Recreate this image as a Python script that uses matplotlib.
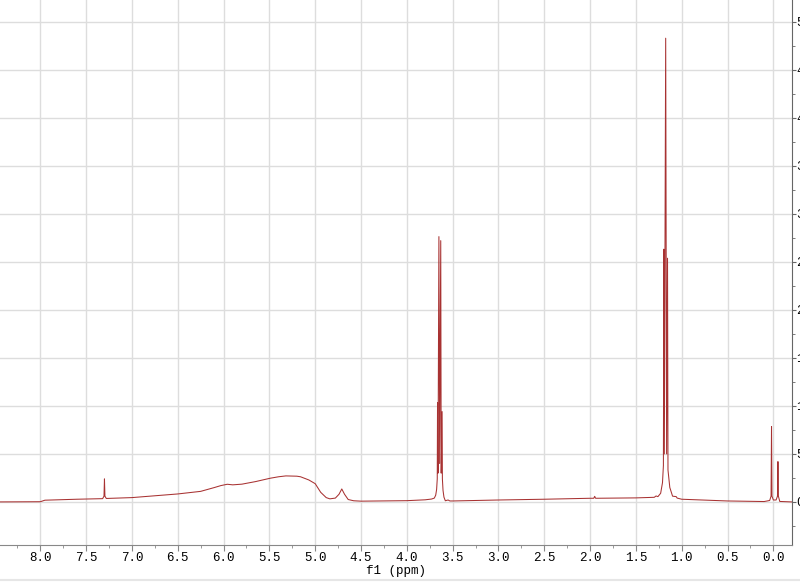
import matplotlib
matplotlib.use("Agg")
import matplotlib.pyplot as plt
from matplotlib.ticker import MultipleLocator

# spectrum trace: chemical shift (ppm) and intensity
ppm = [8.44, 8.00, 7.95, 7.60, 7.32, 7.305, 7.30, 7.295, 7.28, 7.00, 6.50, 6.25,
       6.10, 6.03, 5.96, 5.90, 5.80, 5.65, 5.49, 5.40, 5.32, 5.20, 5.16, 5.07,
       5.00, 4.94, 4.88, 4.84, 4.78, 4.74, 4.71, 4.68, 4.64, 4.58, 4.50, 4.00,
       3.80, 3.73, 3.70, 3.685, 3.675, 3.668, 3.665, 3.660, 3.650, 3.642, 3.630,
       3.625, 3.615, 3.612, 3.605, 3.595, 3.58, 3.55, 3.53, 3.50, 3.00, 2.50,
       2.00, 1.96, 1.95, 1.94, 1.50, 1.30, 1.28, 1.26, 1.23, 1.21, 1.20, 1.195,
       1.19, 1.175, 1.165, 1.155, 1.15, 1.13, 1.10, 1.06, 1.05, 1.00, 0.50, 0.10,
       0.04, 0.025, 0.02, 0.015, 0.00, -0.03, -0.045, -0.05, -0.055, -0.07, -0.20]
intensity = [0, 2, 18, 28, 34, 60, 240, 60, 36, 45, 83, 110,
             150, 170, 184, 178, 185, 212, 247, 262, 271, 268, 262, 229,
             190, 100, 45, 32, 40, 80, 135, 80, 25, 12, 8, 13,
             22, 30, 40, 70, 130, 240, 1035, 300, 2764, 400, 2722,
             300, 941, 240, 120, 50, 12, 20, 10, 10, 20, 28,
             38, 38, 58, 38, 42, 48, 62, 55, 90, 200, 378, 2633,
             500, 4831, 500, 2539, 333, 150, 60, 55, 40, 28, 10, 4,
             15, 60, 785, 60, 20, 20, 60, 420, 60, 5, 0]

x_ticks = [8.0, 7.5, 7.0, 6.5, 6.0, 5.5, 5.0, 4.5, 4.0, 3.5, 3.0, 2.5, 2.0, 1.5, 1.0, 0.5, 0.0]
y_ticks = [0, 500, 1000, 1500, 2000, 2500, 3000, 3500, 4000, 4500, 5000]

fig = plt.figure(figsize=(8, 5.85), dpi=100)
ax = fig.add_axes([0.0, 0.069, 0.9896, 0.931])

ax.plot(ppm, intensity, color="#a83232", linewidth=0.75)

ax.set_xlim(8.44, -0.2)
ax.set_ylim(-445, 5229)

ax.set_xticks(x_ticks)
ax.set_xticklabels([f"{t:.1f}" for t in x_ticks])
ax.xaxis.set_minor_locator(MultipleLocator(0.25))
ax.yaxis.tick_right()
ax.set_yticks(y_ticks)
ax.set_yticklabels([str(t) for t in y_ticks])
ax.yaxis.set_minor_locator(MultipleLocator(250))

ax.grid(True, which="major", color="#dddddd", linewidth=1.0)
ax.set_axisbelow(True)

for side in ["left", "top"]:
    ax.spines[side].set_visible(False)
ax.spines["bottom"].set_color("#888888")
ax.spines["right"].set_color("#666666")

ax.tick_params(axis="x", which="major", length=4, color="#888888", labelsize=9, pad=1.5)
ax.tick_params(axis="x", which="minor", length=2.5, color="#888888")
# labels on the right are cut by the picture edge, as in the original
ax.tick_params(axis="y", which="major", length=3, color="#666666", labelsize=9, pad=0.5)
ax.tick_params(axis="y", which="minor", length=2, color="#666666")
for lab in ax.get_xticklabels() + ax.get_yticklabels():
    lab.set_fontfamily("Liberation Mono")

ax.set_xlabel("f1 (ppm)", fontfamily="Liberation Mono", fontsize=9, labelpad=0.5)

# faint window border near the bottom
fig.add_artist(plt.Line2D([0, 1], [1 - 579.5 / 585, 1 - 579.5 / 585],
                          color="#e6e6e6", linewidth=1.5))

fig.savefig("out.png", dpi=100)
